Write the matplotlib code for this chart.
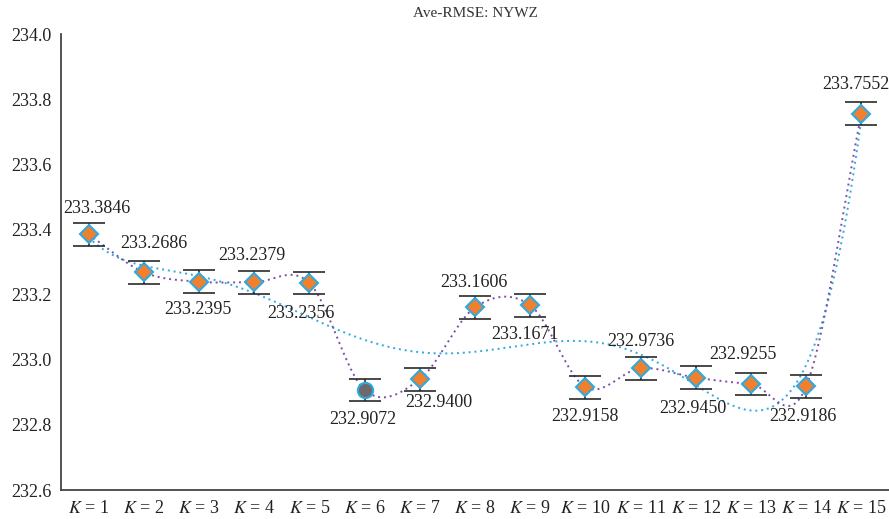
import numpy as np
import matplotlib.pyplot as plt

plt.rcParams['font.family'] = ['Liberation Serif', 'DejaVu Serif']
plt.rcParams['mathtext.fontset'] = 'stix'

k_values = list(range(1, 16))
rmse = [233.3846, 233.2686, 233.2395, 233.2379, 233.2356, 232.9072, 232.9400,
        233.1606, 233.1671, 232.9158, 232.9736, 232.9450, 232.9255, 232.9186,
        233.7552]
err = [0.035] * 15
best_k = 6
tick_labels = [f"$K$ = {k}" for k in k_values]

# label offsets in points (dx, dy)
label_off = [(6, 19), (7, 21), (-1, -20), (-2, 19), (-6, -22), (-1, -21), (14, -17),
             (-1, 18), (-4, -21), (0, -21), (0, 19), (-2, -22), (-6, 21), (-2, -22),
             (-4, 21)]


def catmull_rom(x, y, n=30):
    x = np.asarray(x, float)
    y = np.asarray(y, float)
    px = np.concatenate([[2 * x[0] - x[1]], x, [2 * x[-1] - x[-2]]])
    py = np.concatenate([[2 * y[0] - y[1]], y, [2 * y[-1] - y[-2]]])
    t = np.linspace(0, 1, n)[:-1]
    xs, ys = [], []
    for i in range(1, len(px) - 2):
        for p, out in ((px, xs), (py, ys)):
            p0, p1, p2, p3 = p[i - 1], p[i], p[i + 1], p[i + 2]
            out.append(0.5 * (2 * p1 + (-p0 + p2) * t + (2 * p0 - 5 * p1 + 4 * p2 - p3) * t ** 2
                              + (-p0 + 3 * p1 - 3 * p2 + p3) * t ** 3))
    return np.concatenate(xs + [[x[-1]]]), np.concatenate(ys + [[y[-1]]])


fig = plt.figure(figsize=(8.89, 5.19), dpi=100)
ax = fig.add_axes([61 / 889, 29 / 519, 828 / 889, 456 / 519])

pos = np.arange(len(k_values))

# trend line (polynomial fit)
coef = np.polyfit(pos, rmse, 6)
xt = np.linspace(0, 14, 300)
ax.plot(xt, np.polyval(coef, xt), ls=(0, (1, 2)), color='#2fa9de', lw=1.4, zorder=2)

# smoothed line through points
xs, ys = catmull_rom(pos, rmse)
ax.plot(xs, ys, ls=(0, (1, 2)), color='#7a4fa6', lw=1.4, zorder=2)

ax.errorbar(pos, rmse, yerr=err, fmt='none', ecolor='#2a2a2a', elinewidth=1.2,
            capsize=11.5, capthick=1.2, zorder=3)

for i, v in enumerate(rmse):
    if k_values[i] == best_k:
        ax.plot(i, v, marker='o', ms=11, mfc='#6d6a6e', mec='#2fa9de', mew=1.5, zorder=4)
    else:
        ax.plot(i, v, marker='D', ms=9, mfc='#f07f2e', mec='#2fa9de', mew=1.5, zorder=4)
    dx, dy = label_off[i]
    ax.annotate(f"{v:.4f}", (i, v), xytext=(dx, dy), textcoords='offset points',
                ha='center', va='center', fontsize=13, color='#222222', zorder=5)

ax.set_xlim(-0.5, 14.5)
ax.set_ylim(232.6, 234.0)
ax.set_yticks(np.arange(232.6, 234.01, 0.2))
ax.set_yticklabels([f"{t:.1f}" for t in np.arange(232.6, 234.01, 0.2)])
ax.set_xticks(pos)
ax.set_xticklabels(tick_labels)
ax.tick_params(axis='both', length=0, labelsize=13, colors='#222222')
ax.tick_params(axis='x', pad=7)
ax.tick_params(axis='y', pad=7)
ax.spines['top'].set_visible(False)
ax.spines['right'].set_visible(False)
ax.spines['left'].set_color('#444444')
ax.spines['bottom'].set_color('#444444')
ax.spines['left'].set_linewidth(1.3)
ax.spines['bottom'].set_linewidth(1.3)
ax.set_title("Ave-RMSE: NYWZ", fontsize=11, color='#333333', pad=12)

fig.savefig('out.png', dpi=100)
